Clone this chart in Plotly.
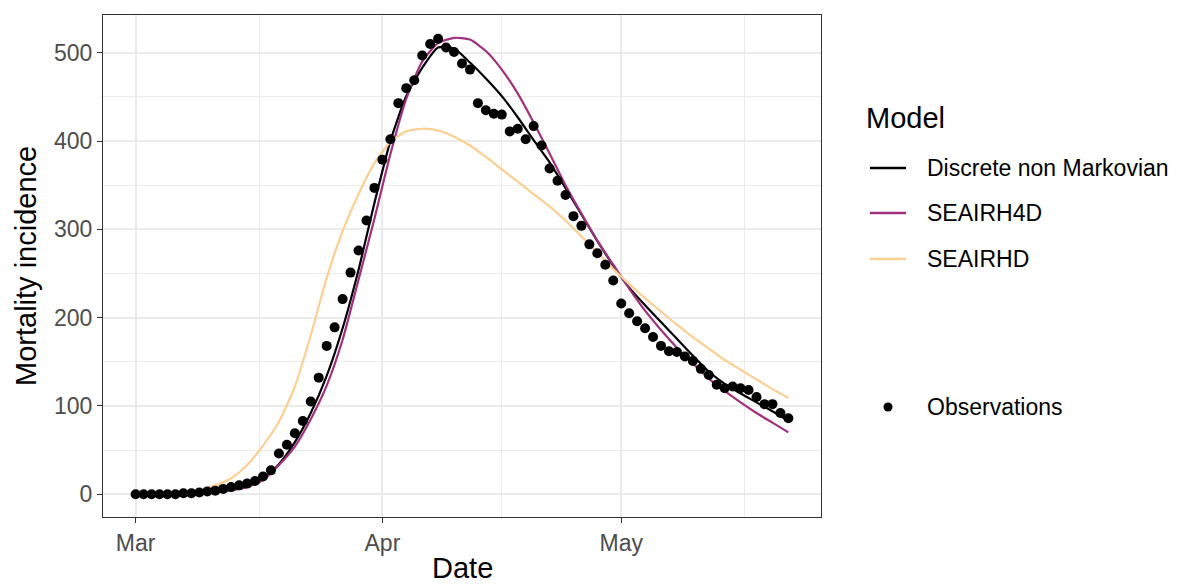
import pandas as pd
import plotly.graph_objects as go

# ---------------- data ----------------
start = pd.Timestamp("2020-03-01")
obs_days = list(range(0, 83))
observations = [0, 0, 0, 0, 0, 0, 1, 1, 2, 3, 4, 6, 8, 10, 12, 15, 20, 27,
                46, 56, 69, 83, 105, 132, 168, 189, 221, 251, 276, 310, 347, 379,
                402, 443, 460, 469, 497, 510, 516, 506, 501, 488, 481, 443, 435,
                431, 430, 411, 414, 402, 417,
                395, 369, 355, 339, 315, 304, 283, 273, 260, 242, 216,
                205, 196, 188, 178, 168, 162, 161, 156, 151, 142, 135, 124, 120,
                122, 120, 118, 110, 102, 102, 92, 86]

model_days = list(range(0, 83, 2))
discrete_non_markovian = [0, 0, 0.5, 1, 2, 3, 5, 9, 17, 34, 59, 92, 134, 188, 254, 330,
                          400, 451, 483, 506, 505, 489, 471, 451, 427, 401, 376, 347,
                          317, 287, 259, 234, 214, 195, 176, 157, 139, 125, 114, 104,
                          94, 83]
seairh4d = [0, 0, 0.3, 0.7, 1.5, 2.5, 4.5, 8, 16, 33, 54, 85, 123, 175, 243, 312,
            385, 448, 490, 511, 517, 515, 502, 481, 454, 421, 386, 350, 318, 287,
            260, 233, 208, 186, 166, 148, 131, 117, 104, 92, 81, 70]
seairhd = [0, 0.5, 1.5, 3, 5, 10, 18, 33, 55, 82, 122, 180, 245, 298, 340, 375,
           399, 411, 414, 412, 405, 395, 382, 368, 354, 340, 326, 310, 292, 274,
           255, 238, 222, 207, 192, 178, 165, 152, 141, 130, 119, 109]

model_names = ["Discrete non Markovian", "SEAIRH4D", "SEAIRHD"]
model_colors = ["#000004", "#A1307E", "#FECF92"]
model_values = [discrete_non_markovian, seairh4d, seairhd]

x_tick_dates = ["2020-03-01", "2020-04-01", "2020-05-01"]
x_tick_labels = ["Mar", "Apr", "May"]
y_ticks = [0, 100, 200, 300, 400, 500]

# ---------------- geometry (page pixels) ----------------
OFF = 8                      # page body margin
PAGE_W, PAGE_H = 1179, 585
W, H = PAGE_W - OFF, PAGE_H - OFF
pan_l, pan_r, pan_t, pan_b = 103, 821, 15, 517   # panel in page pixels
L = pan_l - OFF
T = pan_t - OFF
R = W - (pan_r - OFF)
B = H - (pan_b - OFF)
pw, ph = pan_r - pan_l, pan_b - pan_t


def px(xp):
    return (xp - pan_l) / pw


def py(yp):
    return (pan_b - yp) / ph


obs_x = [start + pd.Timedelta(days=d) for d in obs_days]
mod_x = [start + pd.Timedelta(days=d) for d in model_days]

fig = go.Figure()
for name, col, vals in zip(model_names, model_colors, model_values):
    fig.add_trace(go.Scatter(x=mod_x, y=vals, mode="lines", name=name,
                             line=dict(color=col, width=2.2, shape="spline", smoothing=0.6),
                             showlegend=False))
fig.add_trace(go.Scatter(x=obs_x, y=observations, mode="markers", name="Observations",
                         marker=dict(color="black", size=10), showlegend=False))

span = obs_x[-1] - obs_x[0]
x0 = obs_x[0] - span * 0.05
x1 = obs_x[-1] + span * 0.05
ymax = max(max(observations), max(seairh4d))
yr = [0 - ymax * 0.05, ymax * 1.05]

minor_x = [pd.Timestamp("2020-03-16 12:00"), pd.Timestamp("2020-04-16"),
           pd.Timestamp("2020-05-16 12:00")]

axis_common = dict(showgrid=True, gridcolor="#EBEBEB", gridwidth=1.8,
                   ticks="outside", ticklen=5, tickwidth=1.3, tickcolor="#333333",
                   tickfont=dict(size=23, color="#4D4D4D"),
                   showline=True, mirror=True, linecolor="#333333", linewidth=1.3,
                   zeroline=False)

fig.update_layout(
    width=W, height=H, autosize=False,
    margin=dict(l=L, r=R, t=T, b=B),
    paper_bgcolor="white", plot_bgcolor="white",
    font=dict(family="Liberation Sans, Arial, sans-serif"),
    xaxis=dict(type="date", range=[x0, x1], tickmode="array",
               tickvals=x_tick_dates, ticktext=x_tick_labels,
               minor=dict(tickmode="array", tickvals=minor_x, showgrid=True,
                          gridcolor="#EBEBEB", gridwidth=0.9, ticks=""),
               **axis_common),
    yaxis=dict(range=yr, tickmode="array", tickvals=y_ticks,
               minor=dict(tickmode="array", tickvals=[50, 150, 250, 350, 450],
                          showgrid=True, gridcolor="#EBEBEB", gridwidth=0.9, ticks=""),
               **axis_common),
)

ann = []
shapes = []
# axis titles
ann.append(dict(text="Date", x=px((pan_l + pan_r) / 2), y=py(568), xref="paper", yref="paper",
                xanchor="center", yanchor="middle", showarrow=False,
                font=dict(size=29, color="black")))
ann.append(dict(text="Mortality incidence", x=px(26), y=py((pan_t + pan_b) / 2), xref="paper",
                yref="paper", xanchor="center", yanchor="middle", showarrow=False,
                textangle=-90, font=dict(size=29, color="black")))
# legend
ann.append(dict(text="Model", x=px(864), y=py(118), xref="paper", yref="paper",
                xanchor="left", yanchor="middle", showarrow=False,
                font=dict(size=29, color="black")))
leg_y = [168, 213, 259]
for name, col, yy in zip(model_names, model_colors, leg_y):
    shapes.append(dict(type="line", xref="paper", yref="paper",
                       x0=px(870), x1=px(906), y0=py(yy), y1=py(yy),
                       line=dict(color=col, width=2.7)))
    ann.append(dict(text=name, x=px(925), y=py(yy), xref="paper", yref="paper",
                    xanchor="left", yanchor="middle", showarrow=False,
                    font=dict(size=23, color="black")))
shapes.append(dict(type="circle", xref="paper", yref="paper",
                   x0=px(883.5), x1=px(892.5), y0=py(402.5), y1=py(411.5),
                   fillcolor="black", line=dict(color="black", width=0)))
ann.append(dict(text="Observations", x=px(925), y=py(407), xref="paper", yref="paper",
                xanchor="left", yanchor="middle", showarrow=False,
                font=dict(size=23, color="black")))

fig.update_layout(annotations=ann, shapes=shapes)
fig.write_html("out.html")
